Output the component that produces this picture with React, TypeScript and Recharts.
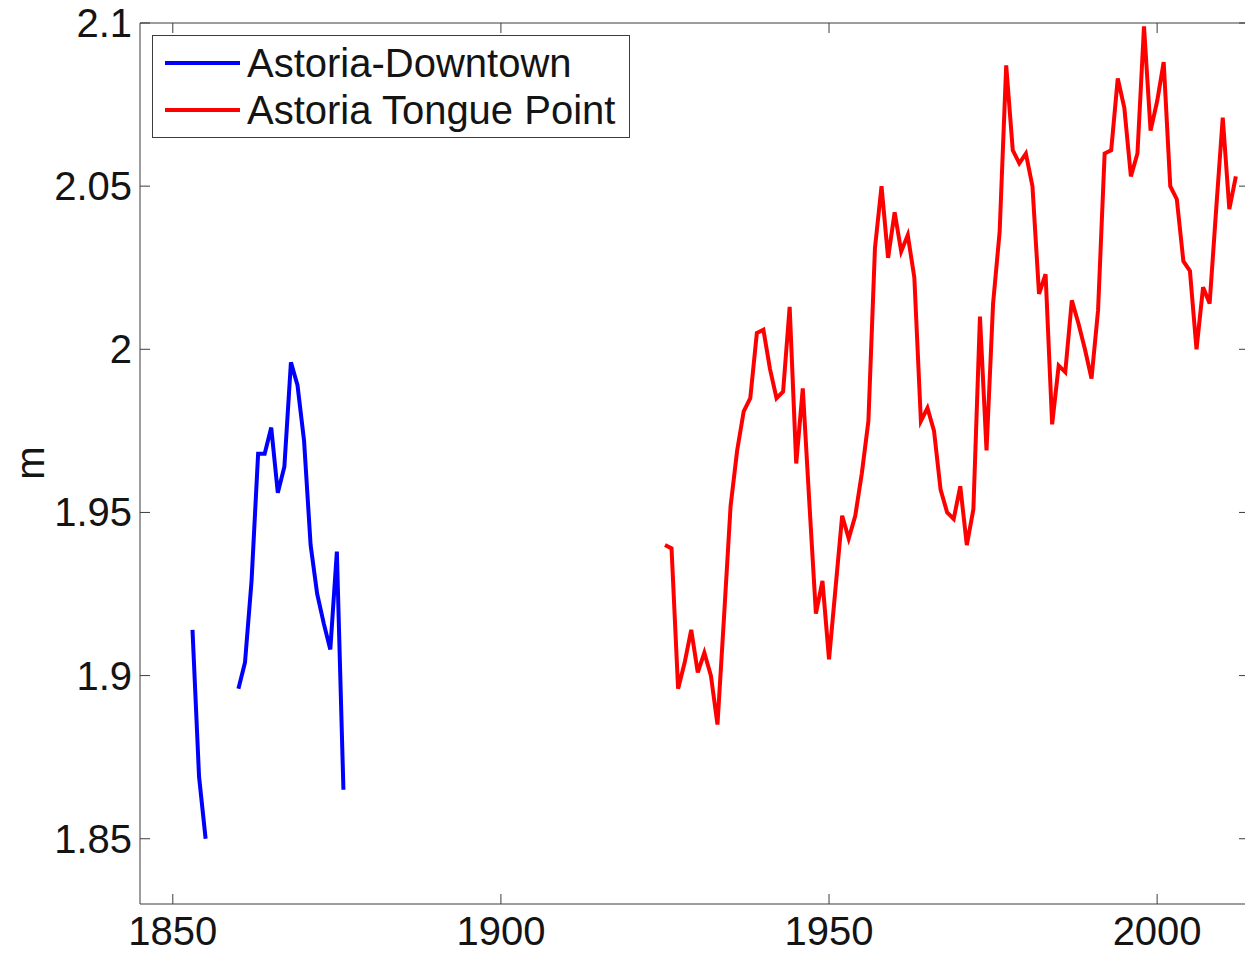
import React from 'react';
import { LineChart, Line, XAxis, YAxis, Legend } from 'recharts';

// Annual mean water level (m), Astoria, Oregon
const downtownYears = [
  1853, 1854, 1855, 1856, 1857, 1858, 1859, 1860, 1861, 1862, 1863, 1864,
  1865, 1866, 1867, 1868, 1869, 1870, 1871, 1872, 1873, 1874, 1875, 1876,
];
const downtownLevels = [
  1.914, 1.869, 1.85, null, null, null, null, 1.896, 1.904, 1.929, 1.968, 1.968,
  1.976, 1.956, 1.964, 1.996, 1.989, 1.972, 1.94, 1.925, 1.916, 1.908, 1.938, 1.865,
];

const tonguePointYears = [
  1925, 1926, 1927, 1928, 1929, 1930, 1931, 1932, 1933, 1934,
  1935, 1936, 1937, 1938, 1939, 1940, 1941, 1942, 1943, 1944,
  1945, 1946, 1947, 1948, 1949, 1950, 1951, 1952, 1953, 1954,
  1955, 1956, 1957, 1958, 1959, 1960, 1961, 1962, 1963, 1964,
  1965, 1966, 1967, 1968, 1969, 1970, 1971, 1972, 1973, 1974,
  1975, 1976, 1977, 1978, 1979, 1980, 1981, 1982, 1983, 1984,
  1985, 1986, 1987, 1988, 1989, 1990, 1991, 1992, 1993, 1994,
  1995, 1996, 1997, 1998, 1999, 2000, 2001, 2002, 2003, 2004,
  2005, 2006, 2007, 2008, 2009, 2010, 2011, 2012,
];
const tonguePointLevels = [
  1.94, 1.939, 1.896, 1.904, 1.914, 1.901, 1.907, 1.9, 1.885, 1.918,
  1.952, 1.969, 1.981, 1.985, 2.005, 2.006, 1.994, 1.985, 1.987, 2.013,
  1.965, 1.988, 1.953, 1.919, 1.929, 1.905, 1.927, 1.949, 1.942, 1.949,
  1.962, 1.978, 2.031, 2.05, 2.028, 2.042, 2.03, 2.035, 2.022, 1.978,
  1.982, 1.975, 1.957, 1.95, 1.948, 1.958, 1.94, 1.951, 2.01, 1.969,
  2.014, 2.036, 2.087, 2.061, 2.057, 2.06, 2.05, 2.017, 2.023, 1.977,
  1.995, 1.993, 2.015, 2.008, 2.0, 1.991, 2.012, 2.06, 2.061, 2.083,
  2.074, 2.053, 2.06, 2.099, 2.067, 2.076, 2.088, 2.05, 2.046, 2.027,
  2.024, 2.0, 2.019, 2.014, 2.043, 2.071, 2.043, 2.053,
];

const xTicks = [1850, 1900, 1950, 2000];
const yTicks = [1.85, 1.9, 1.95, 2, 2.05, 2.1];
const xDomain = [1845, 2014];
const yDomain = [1.83, 2.1];

const seriesNames = ['Astoria-Downtown', 'Astoria Tongue Point'];
const seriesColors = ['#0000ff', '#ff0000'];

const downtownData = downtownYears.map((year, i) => ({ year, level: downtownLevels[i] }));
const tonguePointData = tonguePointYears.map((year, i) => ({ year, level: tonguePointLevels[i] }));

const FONT = '"Liberation Sans", Arial, Helvetica, sans-serif';
const AXIS = '#3c3c3c';
const TEXT = '#141414';
const TICK_LEN = 10;
const FONT_SIZE = 40;
const LINE_W = 4;

const BottomTick = (props: any) => {
  const { x, y, payload } = props;
  return (
    <g>
      <line x1={x} y1={y} x2={x} y2={y - TICK_LEN} stroke={AXIS} strokeWidth={1} />
      <text x={x} y={y + 41} textAnchor="middle" fontSize={FONT_SIZE} fontFamily={FONT} fill={TEXT}>
        {String(payload.value)}
      </text>
    </g>
  );
};

const TopTick = (props: any) => {
  const { x, y } = props;
  return <line x1={x} y1={y} x2={x} y2={y + TICK_LEN} stroke={AXIS} strokeWidth={1} />;
};

const LeftTick = (props: any) => {
  const { x, y, payload } = props;
  return (
    <g>
      <line x1={x} y1={y} x2={x + TICK_LEN} y2={y} stroke={AXIS} strokeWidth={1} />
      <text x={x - 8} y={y + 14} textAnchor="end" fontSize={FONT_SIZE} fontFamily={FONT} fill={TEXT}>
        {String(payload.value)}
      </text>
    </g>
  );
};

const RightTick = (props: any) => {
  const { x, y } = props;
  return <line x1={x} y1={y} x2={x - TICK_LEN} y2={y} stroke={AXIS} strokeWidth={1} />;
};

const LegendBox = () => (
  <svg width={479} height={104} style={{ display: 'block' }}>
    <rect x={0.5} y={0.5} width={477} height={102} fill="#ffffff" stroke={AXIS} strokeWidth={1} />
    {seriesNames.map((name, i) => {
      const cy = 28 + i * 47;
      return (
        <g key={name}>
          <line x1={13} y1={cy} x2={88} y2={cy} stroke={seriesColors[i]} strokeWidth={LINE_W} />
          <text x={95} y={cy + 14} fontSize={FONT_SIZE} fontFamily={FONT} fill={TEXT}>
            {name}
          </text>
        </g>
      );
    })}
  </svg>
);

const YLabel = () => (
  <text
    x={30}
    y={463}
    transform="rotate(-90 30 463)"
    textAnchor="middle"
    dominantBaseline="central"
    fontSize={FONT_SIZE}
    fontFamily={FONT}
    fill={TEXT}
  >
    m
  </text>
);

export default function App() {
  return (
    <div
      style={{
        position: 'absolute',
        left: 0,
        top: 0,
        width: 1245,
        height: 954,
        overflow: 'hidden',
        background: '#ffffff',
      }}
    >
      <LineChart width={1253} height={954} margin={{ top: 0, right: 0, bottom: 0, left: 0 }}>
        <XAxis
          xAxisId="bottom"
          dataKey="year"
          type="number"
          orientation="bottom"
          domain={xDomain}
          ticks={xTicks}
          interval={0}
          height={50}
          tickSize={0}
          tickMargin={0}
          tickLine={false}
          axisLine={{ stroke: AXIS, strokeWidth: 1 }}
          tick={<BottomTick />}
          allowDataOverflow
        />
        <XAxis
          xAxisId="top"
          dataKey="year"
          type="number"
          orientation="top"
          domain={xDomain}
          ticks={xTicks}
          interval={0}
          height={23}
          tickSize={0}
          tickMargin={0}
          tickLine={false}
          axisLine={{ stroke: AXIS, strokeWidth: 1 }}
          tick={<TopTick />}
          allowDataOverflow
        />
        <YAxis
          yAxisId="left"
          type="number"
          orientation="left"
          domain={yDomain}
          ticks={yTicks}
          interval={0}
          width={140}
          tickSize={0}
          tickMargin={0}
          tickLine={false}
          axisLine={{ stroke: AXIS, strokeWidth: 1 }}
          tick={<LeftTick />}
          label={<YLabel />}
          allowDataOverflow
        />
        <YAxis
          yAxisId="right"
          type="number"
          orientation="right"
          domain={yDomain}
          ticks={yTicks}
          interval={0}
          width={4}
          tickSize={0}
          tickMargin={0}
          tickLine={false}
          axisLine={{ stroke: AXIS, strokeWidth: 1 }}
          tick={<RightTick />}
          allowDataOverflow
        />
        <Legend
          layout="horizontal"
          verticalAlign="middle"
          align="center"
          content={<LegendBox />}
          wrapperStyle={{ position: 'absolute', left: 152, top: 35, width: 479, height: 104 }}
        />
        <Line
          xAxisId="bottom"
          yAxisId="left"
          data={downtownData}
          dataKey="level"
          name={seriesNames[0]}
          type="linear"
          stroke={seriesColors[0]}
          strokeWidth={LINE_W}
          dot={false}
          connectNulls={false}
          isAnimationActive={false}
        />
        <Line
          xAxisId="bottom"
          yAxisId="left"
          data={tonguePointData}
          dataKey="level"
          name={seriesNames[1]}
          type="linear"
          stroke={seriesColors[1]}
          strokeWidth={LINE_W}
          dot={false}
          connectNulls={false}
          isAnimationActive={false}
        />
      </LineChart>
    </div>
  );
}
